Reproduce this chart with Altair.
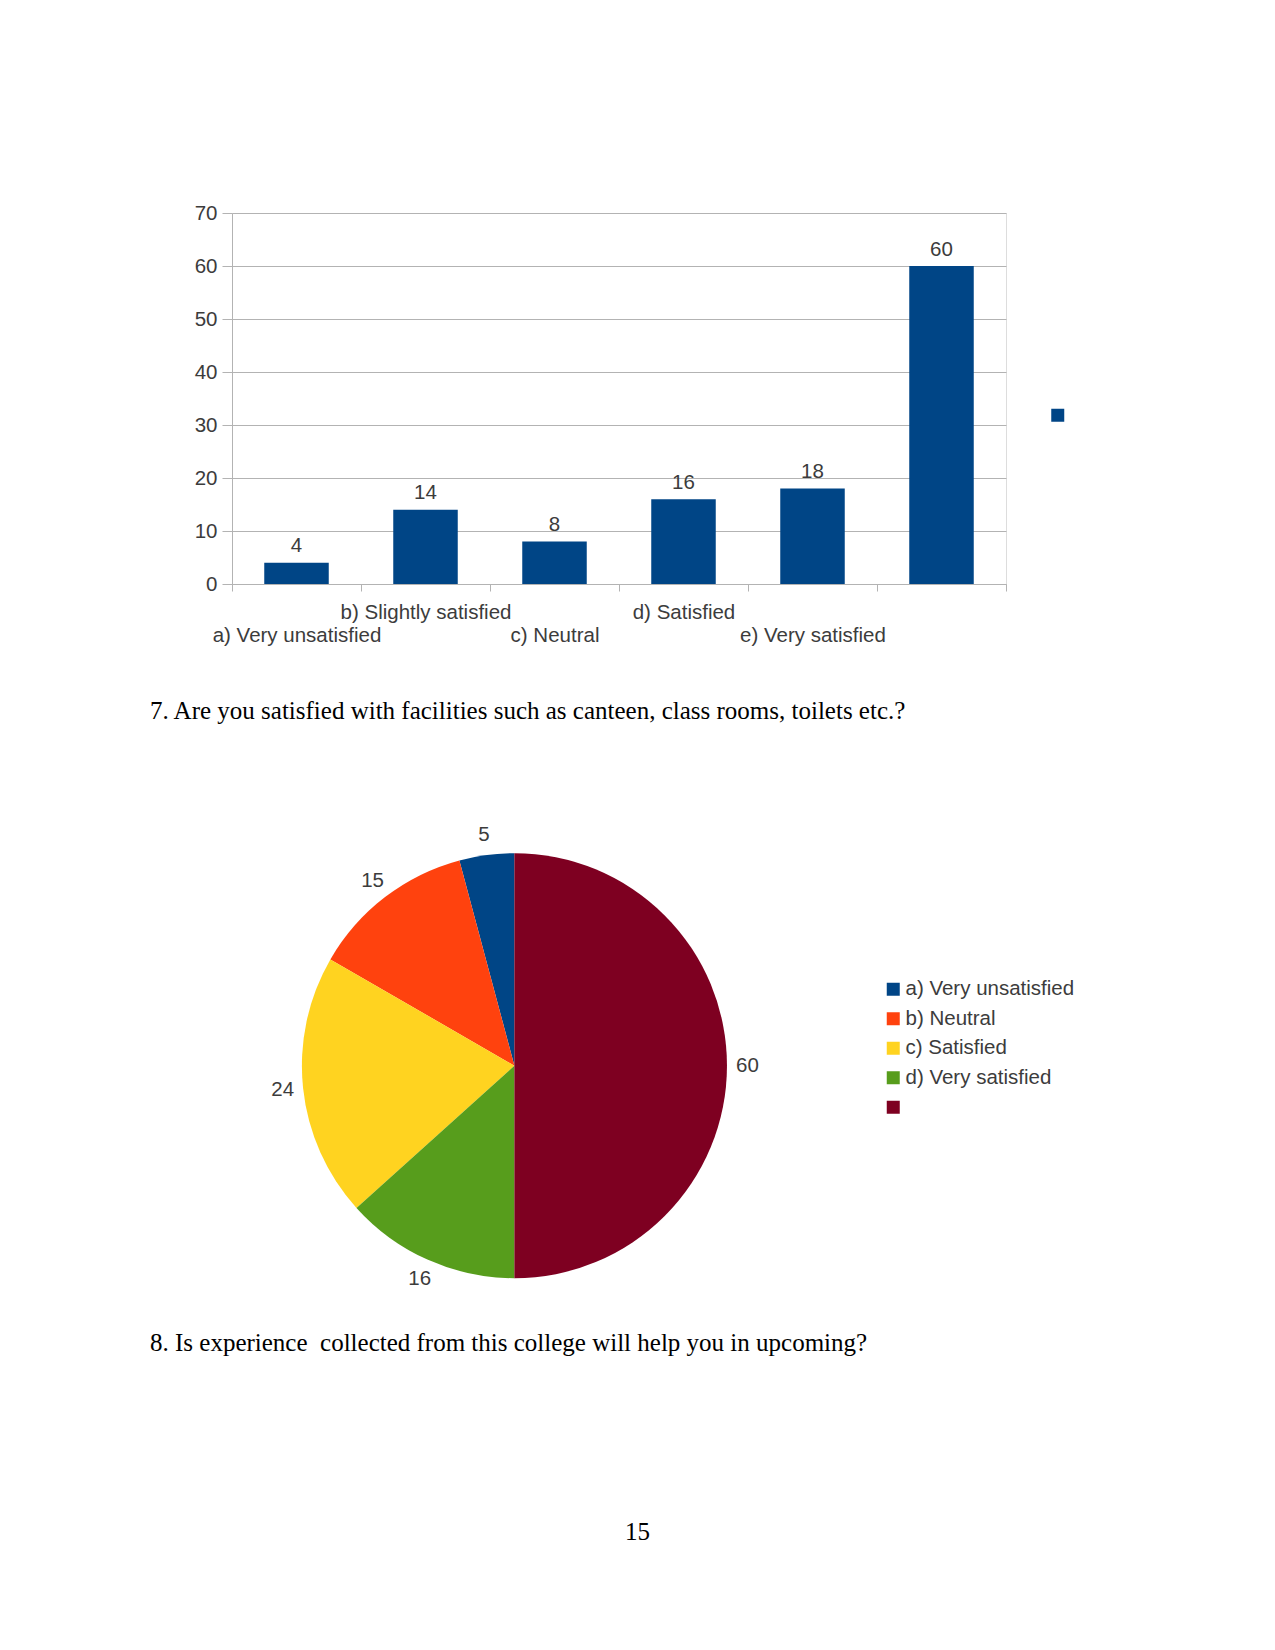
import altair as alt
import pandas as pd

# ---------------- data ----------------
bar_categories = ["a) Very unsatisfied", "b) Slightly satisfied", "c) Neutral",
                  "d) Satisfied", "e) Very satisfied", ""]
bar_values = [4, 14, 8, 16, 18, 60]
bar_series_name = [""]
bar_series_color = ["#004586"]
y_ticks = [0, 10, 20, 30, 40, 50, 60, 70]

pie_categories = ["a) Very unsatisfied", "b) Neutral", "c) Satisfied",
                  "d) Very satisfied", ""]
pie_values = [5, 15, 24, 16, 60]
pie_colors = ["#004586", "#ff420e", "#ffd320", "#579d1c", "#7e0021"]
pie_order = [4, 3, 2, 1, 0]

question_7 = "7. Are you satisfied with facilities such as canteen, class rooms, toilets etc.?"
question_8 = "8. Is experience\u00a0 collected from this college will help you in upcoming?"
page_number = "15"

# ---------------- styling ----------------
GRAY_TEXT = "#3c3c3c"
GRID = "#b3b3b3"
FS = 20.5
PLOT_W, PLOT_H = 774, 371

bar_df = pd.DataFrame({
    "category": bar_categories,
    "value": bar_values,
    "series": bar_series_name * len(bar_categories),
})
pie_df = pd.DataFrame({
    "category": pie_categories,
    "value": pie_values,
    "order": pie_order,
})

x_enc = alt.X(
    "category:N",
    sort=bar_categories,
    scale=alt.Scale(paddingInner=0, paddingOuter=0),
    axis=alt.Axis(
        title=None, labelAngle=0, tickBand="extent", tickSize=7,
        tickColor=GRID, domainColor=GRID, grid=False,
        labelPadding=11, labelFontSize=FS, labelColor=GRAY_TEXT,
        labelFont="Liberation Sans", labelLimit=500, labelLineHeight=23,
        labelExpr="indexof('ace', substring(datum.label, 0, 1)) >= 0 ? ['', datum.label] : datum.label",
    ),
)
y_enc = alt.Y(
    "value:Q",
    scale=alt.Scale(domain=[0, 70], nice=False),
    axis=alt.Axis(
        title=None, values=y_ticks, grid=True, gridColor=GRID,
        domainColor=GRID, tickColor=GRID, tickSize=10, labelPadding=5,
        labelFontSize=FS, labelColor=GRAY_TEXT, labelFont="Liberation Sans",
    ),
)

bars = alt.Chart(bar_df).mark_bar(width=alt.RelativeBandSize(0.5)).encode(
    x=x_enc,
    y=y_enc,
    color=alt.Color(
        "series:N",
        scale=alt.Scale(domain=bar_series_name, range=bar_series_color),
        legend=alt.Legend(
            title=None, orient="none", legendX=815.5, legendY=192,
            symbolType="square", symbolSize=169, symbolStrokeWidth=0,
            labelFontSize=FS, padding=0,
        ),
    ),
)
bar_labels = alt.Chart(bar_df).mark_text(
    dy=-10.5, baseline="alphabetic", fontSize=FS, color=GRAY_TEXT,
    font="Liberation Sans",
).encode(
    x=alt.X("category:N", sort=bar_categories),
    y="value:Q",
    text="value:Q",
)

PIE_CX, PIE_CY = 282.4, 852.7
pie_base = alt.Chart(pie_df).encode(
    theta=alt.Theta("value:Q", stack=True),
    order=alt.Order("order:Q"),
)
pie = pie_base.mark_arc(radius=212.5).encode(
    x=alt.value(PIE_CX),
    y=alt.value(PIE_CY),
    color=alt.Color(
        "category:N",
        scale=alt.Scale(domain=pie_categories, range=pie_colors),
        legend=alt.Legend(
            title=None, orient="none", legendX=651, legendY=766,
            symbolType="square", symbolSize=169, symbolStrokeWidth=0,
            labelFontSize=FS, labelColor=GRAY_TEXT, labelFont="Liberation Sans",
            labelOffset=2, rowPadding=8.5, padding=0, labelLimit=500,
        ),
    ),
)
pie_labels = pie_base.mark_text(
    radius=233, fontSize=FS, color=GRAY_TEXT, font="Liberation Sans",
    align="center", baseline="middle",
).encode(
    x=alt.value(PIE_CX),
    y=alt.value(PIE_CY),
    text="value:Q",
)


def page_text(txt, x, y, align="left"):
    return alt.Chart(pd.DataFrame({"t": [txt]})).mark_text(
        align=align, baseline="alphabetic", font="Liberation Serif",
        fontSize=25, color="black",
    ).encode(x=alt.value(x), y=alt.value(y), text="t:N")


q7 = page_text(question_7, -82, 506)
q8 = page_text(question_8, -82, 1138)
pn = page_text(page_number, 405.5, 1327, align="center")

chart = alt.layer(bars, bar_labels, pie, pie_labels, q7, q8, pn).resolve_scale(
    color="independent"
).properties(
    width=PLOT_W, height=PLOT_H,
    autosize=alt.AutoSizeParams(type="none"),
    padding={"left": 224, "top": 205, "right": 150, "bottom": 990},
    background="white",
).configure_view(
    stroke=GRID, strokeWidth=1,
).configure(font="Liberation Sans")

chart.save("out.html", embed_options={"renderer": "svg", "actions": False})
